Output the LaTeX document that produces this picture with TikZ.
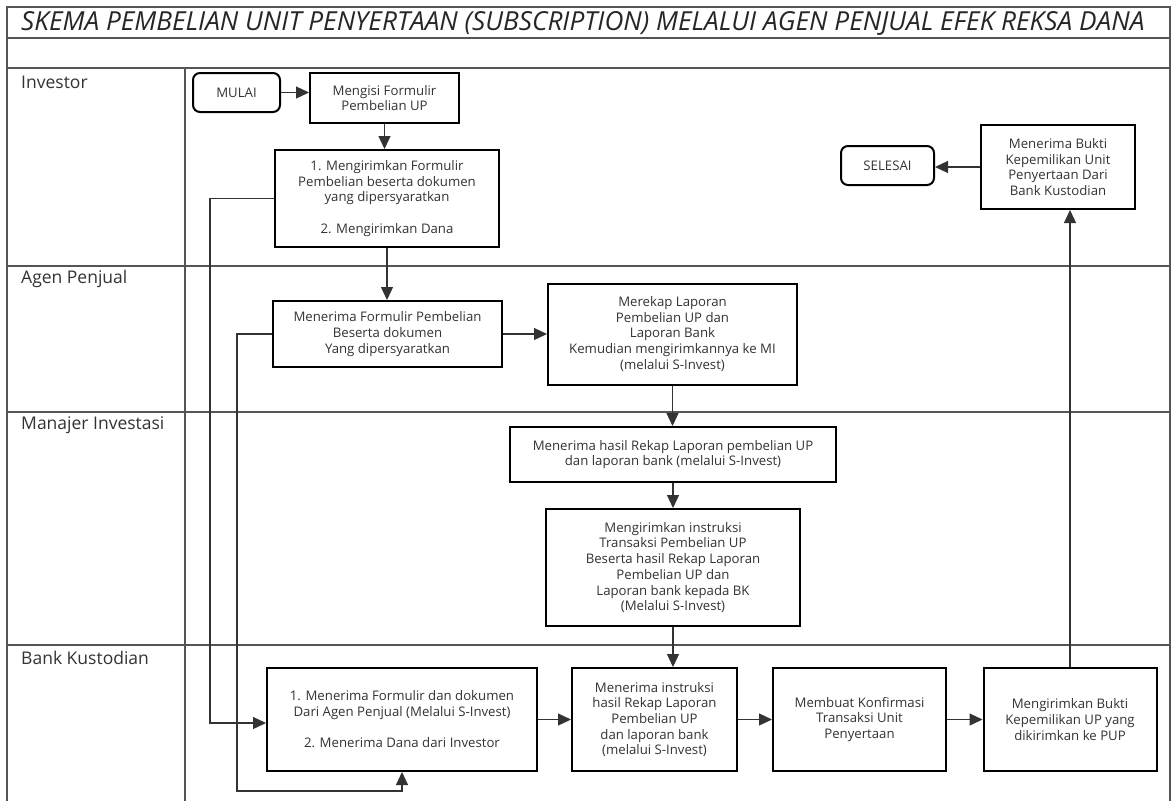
\documentclass[tikz,border=0pt]{standalone}
\usepackage{fontspec}
\setmainfont{Open Sans}
\usetikzlibrary{arrows.meta}
\definecolor{txtgray}{HTML}{333333}
\definecolor{linegray}{HTML}{555555}
\begin{document}
\begin{tikzpicture}[x=1pt,y=-1pt,
  box/.style={draw=black,line width=2pt,text=txtgray,align=center,inner sep=2pt,font=\fontsize{13.2}{15.7}\selectfont},
  term/.style={box,rounded corners=7pt},
  lane/.style={draw=linegray,line width=1.1pt},
  lbl/.style={anchor=west,inner sep=0pt,text=txtgray,font=\fontsize{17.5}{20}\selectfont},
  arr/.style={draw=black!80,line width=1.2pt,-{Triangle[length=13pt,width=12pt]}}]
\useasboundingbox (0,0) rectangle (1174,801);
\fill[white] (0,0) rectangle (1174,801);
\draw[lane] (7,801) -- (7,7) -- (1170,7) -- (1170,801);
\draw[lane] (7,38) -- (1170,38);
\draw[lane] (7,68) -- (1170,68);
\draw[lane] (7,266) -- (1170,266);
\draw[lane] (7,412) -- (1170,412);
\draw[lane] (7,645) -- (1170,645);
\draw[lane] (185,68) -- (185,801);
\node[anchor=west,inner sep=0pt,text=black!85,font=\fontsize{26.2}{30}\selectfont\itshape] (title) at (21,23) {SKEMA PEMBELIAN UNIT PENYERTAAN (SUBSCRIPTION) MELALUI AGEN PENJUAL EFEK REKSA DANA};
\node[lbl] (lInvestor) at (21,82) {Investor};
\node[lbl] (lAgen) at (21,279) {Agen Penjual};
\node[lbl] (lMI) at (21,425) {Manajer Investasi};
\node[lbl] (lBK) at (21,658) {Bank Kustodian};
\node[term,minimum width=87pt,minimum height=39pt] (mulai) at (236.5,92.5) {MULAI};
\node[box,minimum width=149pt,minimum height=50pt] (mengisi) at (384.5,98) {Mengisi Formulir\\Pembelian UP};
\node[box,minimum width=224pt,minimum height=97pt] (kirim) at (387,198.5) {1. Mengirimkan Formulir\\Pembelian beserta dokumen\\yang dipersyaratkan\\[15.7pt]2. Mengirimkan Dana};
\node[box,minimum width=154pt,minimum height=84pt] (bukti) at (1058,167) {Menerima Bukti\\Kepemilikan Unit\\Penyertaan Dari\\Bank Kustodian};
\node[term,minimum width=93pt,minimum height=39pt] (selesai) at (887.5,165.5) {SELESAI};
\node[box,minimum width=229pt,minimum height=66pt] (terimaAgen) at (387.5,334) {Menerima Formulir Pembelian\\Beserta dokumen\\Yang dipersyaratkan};
\node[box,minimum width=249pt,minimum height=101pt] (rekap) at (672.5,334) {Merekap Laporan\\Pembelian UP dan\\Laporan Bank\\Kemudian mengirimkannya ke MI\\(melalui S-Invest)};
\node[box,minimum width=326pt,minimum height=55pt] (terimaMI) at (673,454.5) {Menerima hasil Rekap Laporan pembelian UP\\dan laporan bank (melalui S-Invest)};
\node[box,minimum width=254pt,minimum height=117pt] (kirimMI) at (673,567.5) {Mengirimkan instruksi\\Transaksi Pembelian UP\\Beserta hasil Rekap Laporan\\Pembelian UP dan\\Laporan bank kepada BK\\(Melalui S-Invest)};
\node[box,minimum width=270pt,minimum height=103pt] (bk1) at (402,719.5) {1. Menerima Formulir dan dokumen\\Dari Agen Penjual (Melalui S-Invest)\\[15.7pt]2. Menerima Dana dari Investor};
\node[box,minimum width=165pt,minimum height=103pt] (bk2) at (654.5,719.5) {Menerima instruksi\\hasil Rekap Laporan\\Pembelian UP\\dan laporan bank\\(melalui S-Invest)};
\node[box,minimum width=173pt,minimum height=103pt] (bk3) at (859.5,719.5) {Membuat Konfirmasi\\Transaksi Unit\\Penyertaan};
\node[box,minimum width=173pt,minimum height=103pt] (bk4) at (1070,719.5) {Mengirimkan Bukti\\Kepemilikan UP yang\\dikirimkan ke PUP};
\coordinate (turnA) at (210,723);
\coordinate (turnB) at (237,791);
\draw[arr] (mulai.east) -- (mulai.east -| mengisi.west);
\draw[arr] (mengisi.south) -- (mengisi.south |- kirim.north);
\draw[arr] (kirim.south) -- (kirim.south |- terimaAgen.north);
\draw[arr] (terimaAgen.east) -- (terimaAgen.east -| rekap.west);
\draw[arr] (rekap.south) -- (rekap.south |- terimaMI.north);
\draw[arr] (terimaMI.south) -- (terimaMI.south |- kirimMI.north);
\draw[arr] (kirimMI.south) -- (kirimMI.south |- bk2.north);
\draw[arr] (bk1.east) -- (bk2.west);
\draw[arr] (bk2.east) -- (bk3.west);
\draw[arr] (bk3.east) -- (bk4.west);
\draw[arr] (bk4.north) -- (bk4.north |- bukti.south);
\draw[arr] (bukti.west) -- (bukti.west -| selesai.east);
\draw[arr] (kirim.west) -| (turnA) -- (turnA -| bk1.west);
\draw[arr] (terimaAgen.west) -| (turnB) -| (bk1.south);
\end{tikzpicture}
\end{document}
